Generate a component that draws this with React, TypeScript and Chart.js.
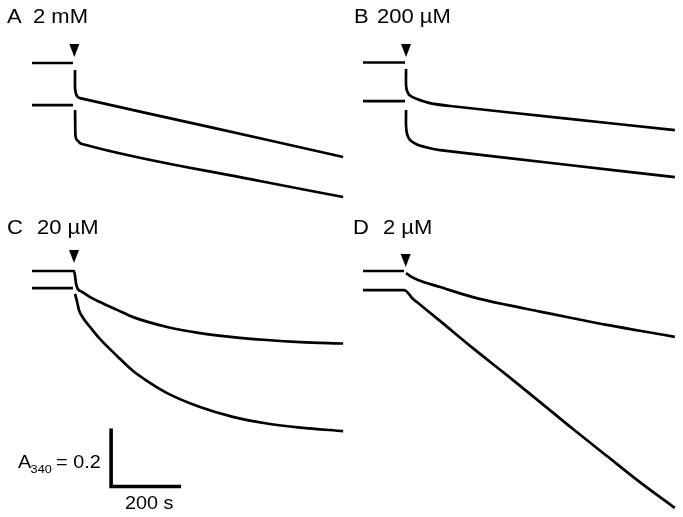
import React, { useEffect, useRef } from "react";
import { Chart, registerables } from "chart.js";

Chart.register(...registerables);

// ---- Data (time in s, absorbance at 340 nm) ----
const PANEL_LETTERS = ["A", "B", "C", "D"];
const PANEL_CONC = ["2 mM", "200 µM", "20 µM", "2 µM"];

const A_TOP_T = [0, 117, 120, 123, 123, 126, 131, 140, 509, 889];
const A_TOP_ABS = [1.0, 1.0, null, 0.976, 0.914, 0.893, 0.883, 0.878, 0.779, 0.676];
const A_BOT_T = [0, 117, 120, 123, 124, 129, 137, 149, 651, 889];
const A_BOT_ABS = [0.855, 0.855, null, 0.838, 0.752, 0.734, 0.724, 0.719, 0.593, 0.538];

const B_TOP_T = [0, 120, 121, 123, 123, 126, 134, 154, 191, 249, 563, 891];
const B_TOP_ABS = [1.0, 1.0, null, 0.978, 0.922, 0.902, 0.886, 0.874, 0.86, 0.85, 0.809, 0.767];
const B_BOT_T = [0, 120, 121, 123, 123, 126, 134, 154, 183, 220, 563, 891];
const B_BOT_ABS = [0.867, 0.867, null, 0.836, 0.781, 0.753, 0.733, 0.717, 0.707, 0.698, 0.65, 0.605];

const C_TOP_T = [0, 120, 123, 126, 131, 143, 166, 194, 243, 289, 386, 480, 574, 671, 766, 889];
const C_TOP_ABS = [1.0, 1.0, 0.983, 0.955, 0.938, 0.928, 0.91, 0.893, 0.866, 0.841, 0.807, 0.786, 0.772, 0.762, 0.755, 0.75];
const C_BOT_T = [0, 117, 120, 123, 129, 134, 146, 166, 194, 243, 289, 337, 386, 480, 574, 671, 766, 889];
const C_BOT_ABS = [0.941, 0.941, null, 0.921, 0.893, 0.866, 0.838, 0.807, 0.766, 0.707, 0.655, 0.614, 0.579, 0.531, 0.497, 0.474, 0.46, 0.448];

const D_TOP_T = [0, 117, 120, 123, 134, 157, 220, 314, 411, 506, 600, 697, 791, 891];
const D_TOP_ABS = [1.0, 1.0, null, 0.993, 0.983, 0.969, 0.945, 0.91, 0.883, 0.86, 0.837, 0.814, 0.794, 0.773];
const D_BOT_T = [0, 117, 123, 131, 140, 154, 220, 314, 411, 506, 600, 697, 791, 891];
const D_BOT_ABS = [0.934, 0.934, 0.931, 0.921, 0.907, 0.893, 0.828, 0.734, 0.641, 0.548, 0.455, 0.362, 0.272, 0.183];

const TRACE_T = [
  [A_TOP_T, A_BOT_T],
  [B_TOP_T, B_BOT_T],
  [C_TOP_T, C_BOT_T],
  [D_TOP_T, D_BOT_T],
];
const TRACE_ABS = [
  [A_TOP_ABS, A_BOT_ABS],
  [B_TOP_ABS, B_BOT_ABS],
  [C_TOP_ABS, C_BOT_ABS],
  [D_TOP_ABS, D_BOT_ABS],
];

// addition marker (arrowhead tip)
const ARROW_T = [121, 123, 120, 122];
const ARROW_ABS = [1.021, 1.019, 1.028, 1.014];

// scale bar (drawn in panel C)
const SCALE_T0 = 226;
const SCALE_ABS0 = 0.257;
const SCALE_DT = 200;
const SCALE_DABS = 0.2;
const SCALE_T_LABEL = "200 s";
const SCALE_ABS_LABEL = ["A", "340", "= 0.2"];

// ---- Layout ----
const SEC_PER_PX = 200 / 70;
const ABS_PER_PX = 0.2 / 58;
const FONT = "'Liberation Sans', Arial, Helvetica, sans-serif";

const LAYOUT = [
  { left: 0, top: 0, width: 345, height: 215, t0x: 32, refY: 63, letterX: 7, concX: 33, baseline: 23 },
  { left: 340, top: 0, width: 343, height: 215, t0x: 23, refY: 62.5, letterX: 14, concX: 37, baseline: 23 },
  { left: 0, top: 215, width: 345, height: 302, t0x: 32, refY: 56, letterX: 7, concX: 37, baseline: 19 },
  { left: 340, top: 215, width: 343, height: 302, t0x: 23, refY: 56, letterX: 13, concX: 43, baseline: 19 },
];

function isIncreasing(ts: number[]) {
  for (let j = 1; j < ts.length; j++) if (ts[j] <= ts[j - 1]) return false;
  return true;
}

function stretchText(ctx: CanvasRenderingContext2D, text: string, x: number, y: number, font: string, sx = 1.1) {
  ctx.save();
  ctx.font = font;
  ctx.translate(x, y);
  ctx.scale(sx, 1);
  ctx.fillText(text, 0, 0);
  ctx.restore();
}

export default function App() {
  const refs = useRef<(HTMLCanvasElement | null)[]>([]);

  useEffect(() => {
    const charts: Chart[] = [];
    LAYOUT.forEach((lay, i) => {
      const canvas = refs.current[i];
      if (!canvas) return;
      const xmin = -lay.t0x * SEC_PER_PX;
      const xmax = xmin + lay.width * SEC_PER_PX;
      const ymax = 1 + lay.refY * ABS_PER_PX;
      const ymin = ymax - lay.height * ABS_PER_PX;

      const lineStyle = {
        borderColor: "#000",
        borderWidth: 2.7,
        pointRadius: 0,
        fill: false,
        tension: 0.3,
        spanGaps: false,
        borderJoinStyle: "round" as const,
        borderCapStyle: "butt" as const,
      };

      const datasets: any[] = TRACE_T[i].map((ts, k) => ({
        ...lineStyle,
        cubicInterpolationMode: isIncreasing(ts) ? "monotone" : "default",
        data: ts.map((t, j) => ({ x: t, y: TRACE_ABS[i][k][j] })),
      }));

      if (i === 2) {
        datasets.push({
          ...lineStyle,
          tension: 0,
          borderWidth: 3.6,
          borderJoinStyle: "miter",
          data: [
            { x: SCALE_T0, y: SCALE_ABS0 + SCALE_DABS },
            { x: SCALE_T0, y: SCALE_ABS0 },
            { x: SCALE_T0 + SCALE_DT, y: SCALE_ABS0 },
          ],
        });
      }

      const annot = {
        id: "annot" + i,
        afterDatasetsDraw(chart: any) {
          const ctx: CanvasRenderingContext2D = chart.ctx;
          const xs = chart.scales.x;
          const ys = chart.scales.y;
          ctx.save();
          ctx.fillStyle = "#000";
          ctx.textBaseline = "alphabetic";
          ctx.textAlign = "left";
          // panel label
          stretchText(ctx, PANEL_LETTERS[i], lay.letterX, lay.baseline, `20px ${FONT}`);
          stretchText(ctx, PANEL_CONC[i], lay.concX, lay.baseline, `20px ${FONT}`);
          // arrowhead
          const px = xs.getPixelForValue(ARROW_T[i]);
          const py = ys.getPixelForValue(ARROW_ABS[i]);
          ctx.beginPath();
          ctx.moveTo(px - 5, py - 13);
          ctx.lineTo(px + 5, py - 13);
          ctx.lineTo(px, py);
          ctx.closePath();
          ctx.fill();
          // scale bar labels
          if (i === 2) {
            const bx = xs.getPixelForValue(SCALE_T0);
            const by = ys.getPixelForValue(SCALE_ABS0);
            const bx2 = xs.getPixelForValue(SCALE_T0 + SCALE_DT);
            stretchText(ctx, SCALE_ABS_LABEL[0], bx - 93, by - 18.5, `18px ${FONT}`);
            stretchText(ctx, SCALE_ABS_LABEL[1], bx - 80.5, by - 13.5, `11.5px ${FONT}`);
            stretchText(ctx, SCALE_ABS_LABEL[2], bx - 55, by - 18.5, `18px ${FONT}`);
            ctx.font = `18px ${FONT}`;
            const w = ctx.measureText(SCALE_T_LABEL).width * 1.1;
            stretchText(ctx, SCALE_T_LABEL, (bx + bx2) / 2 + 3 - w / 2, by + 22.5, `18px ${FONT}`);
          }
          ctx.restore();
        },
      };

      charts.push(
        new Chart(canvas, {
          type: "line",
          data: { datasets },
          options: {
            animation: false,
            responsive: false,
            devicePixelRatio: 1,
            layout: { padding: 0 },
            plugins: { legend: { display: false }, tooltip: { enabled: false }, title: { display: false } },
            events: [],
            scales: {
              x: { type: "linear", display: false, min: xmin, max: xmax, bounds: "data" },
              y: { type: "linear", display: false, min: ymin, max: ymax, bounds: "data" },
            },
          },
          plugins: [annot],
        })
      );
    });
    return () => charts.forEach((c) => c.destroy());
  }, []);

  return (
    <div style={{ position: "fixed", left: 0, top: 0, width: 683, height: 517, background: "#fff", overflow: "hidden" }}>
      {LAYOUT.map((lay, i) => (
        <canvas
          key={i}
          ref={(el) => {
            refs.current[i] = el;
          }}
          width={lay.width}
          height={lay.height}
          style={{ position: "absolute", left: lay.left, top: lay.top, width: lay.width, height: lay.height }}
        />
      ))}
    </div>
  );
}
